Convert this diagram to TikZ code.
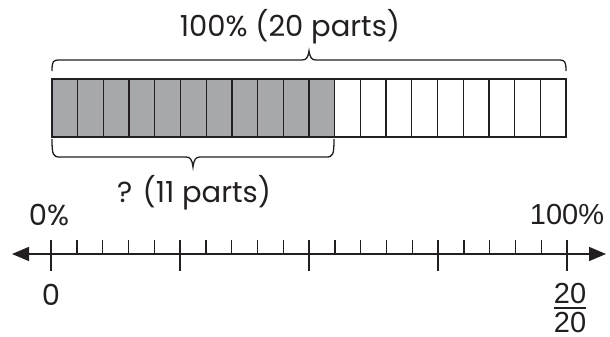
\documentclass[tikz,border=0pt]{standalone}
\usepackage{fontspec}
\setmainfont{Poppins}
\newfontfamily\helv{Liberation Sans}
\usetikzlibrary{arrows.meta}
\definecolor{barfill}{HTML}{A7A8AB}
\definecolor{ink}{HTML}{231F20}
\tikzset{
  cell/.style={draw=ink, line width=1.3pt, minimum width=25.7pt, minimum height=58pt, inner sep=0pt, outer sep=0pt},
  shaded/.style={cell, fill=barfill},
  brace/.style={draw=ink, line width=1.3pt},
  lbl/.style={font=\fontsize{29}{32}\selectfont, text=ink, inner sep=0pt},
  hlbl/.style={font=\helv\fontsize{29}{32}\selectfont, text=ink, inner sep=0pt},
  axis/.style={draw=ink, line width=1.6pt},
  tick/.style={draw=ink, line width=1.4pt}
}
\begin{document}
\begin{tikzpicture}[x=1pt,y=-1pt]
\useasboundingbox (0,0) rectangle (610,337);
% bar cells
\foreach \i in {0,...,19}{
  \pgfmathsetmacro{\cx}{52+25.7*\i+12.85}
  \ifnum\i<11
    \node[shaded] (c\i) at (\cx,108) {};
  \else
    \node[cell] (c\i) at (\cx,108) {};
  \fi
}
% top brace
\coordinate (tl) at (52,71);
\coordinate (tr) at (566,71);
\coordinate (tt) at (309,51);
\draw[brace] (tl) .. controls (52,61) and (53,60) .. (60,60) -- (302,60)
  .. controls (306,60) and (308,58) .. (tt)
  .. controls (310,58) and (312,60) .. (316,60) -- (558,60)
  .. controls (565,60) and (566,61) .. (tr);
% bottom brace
\coordinate (bl) at (52,139);
\coordinate (br) at (334,139);
\coordinate (bt) at (193,167);
\draw[brace] (bl) .. controls (52,155) and (53,157) .. (60,157) -- (186,157)
  .. controls (190,157) and (192,159) .. (bt)
  .. controls (194,159) and (196,157) .. (200,157) -- (326,157)
  .. controls (333,157) and (334,155) .. (br);
% labels
\node[lbl, anchor=base] (top) at (290,37) {100\% (20 parts)};
\node[lbl, anchor=base] (q) at (194,202) {? (11 parts)};
\node[lbl, anchor=base] (p0) at (49,225) {0\%};
\node[hlbl, anchor=base] (p100) at (567,224) {100\%};
% number line
\coordinate (L) at (12,254);
\coordinate (R) at (606,254);
\draw[axis, {Triangle[length=17pt,width=14pt]}-{Triangle[length=17pt,width=14pt]}] (L) -- (R);
\foreach \k in {0,...,20}{
  \pgfmathsetmacro{\tx}{51+25.8*\k}
  \pgfmathtruncatemacro{\m}{mod(\k,5)}
  \ifnum\m=0
    \draw[tick] (\tx,240) -- (\tx,271);
  \else
    \draw[tick] (\tx,240) -- (\tx,254);
  \fi
}
\node[lbl, anchor=base] (z) at (51,305) {0};
\node[hlbl, anchor=base] (num) at (570,303) {20};
\node[hlbl, anchor=base] (den) at (570,332) {20};
\draw[draw=ink, line width=1.6pt] (num.south west |- 0,308) -- (num.south east |- 0,308);
\end{tikzpicture}
\end{document}
